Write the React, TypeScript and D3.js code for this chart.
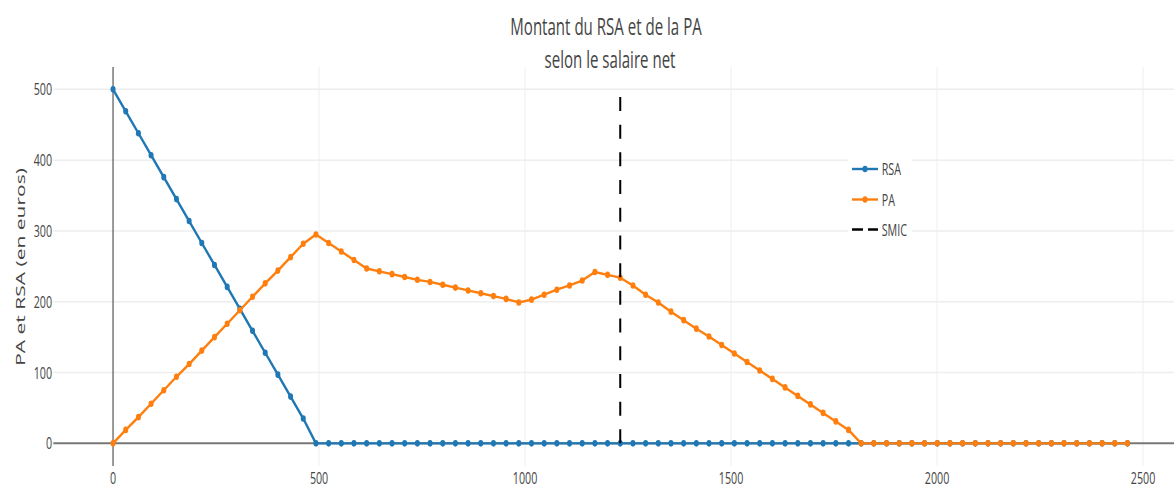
import React from "react";
import * as d3 from "d3";

const salaire = [
  0, 30.8, 61.6, 92.3, 123.1, 153.9, 184.7, 215.4, 246.2, 277.0,
  307.8, 338.5, 369.3, 400.1, 430.9, 461.6, 492.4, 523.2, 554.0, 584.7,
  615.5, 646.3, 677.1, 707.8, 738.6, 769.4, 800.2, 830.9, 861.7, 892.5,
  923.3, 954.0, 984.8, 1015.6, 1046.4, 1077.1, 1107.9, 1138.7, 1169.5, 1200.2,
  1231.0, 1261.8, 1292.6, 1323.3, 1354.1, 1384.9, 1415.7, 1446.4, 1477.2, 1508.0,
  1538.8, 1569.5, 1600.3, 1631.1, 1661.9, 1692.6, 1723.4, 1754.2, 1785.0, 1815.7,
  1846.5, 1877.3, 1908.1, 1938.8, 1969.6, 2000.4, 2031.2, 2061.9, 2092.7, 2123.5,
  2154.3, 2185.0, 2215.8, 2246.6, 2277.4, 2308.1, 2338.9, 2369.7, 2400.5, 2431.2,
  2462.0,
];

const rsa = [
  500, 469, 438, 407, 376, 345, 314, 283, 252, 221,
  190, 159, 128, 97, 66, 35, 0, 0, 0, 0,
  0, 0, 0, 0, 0, 0, 0, 0, 0, 0,
  0, 0, 0, 0, 0, 0, 0, 0, 0, 0,
  0, 0, 0, 0, 0, 0, 0, 0, 0, 0,
  0, 0, 0, 0, 0, 0, 0, 0, 0, 0,
  0, 0, 0, 0, 0, 0, 0, 0, 0, 0,
  0, 0, 0, 0, 0, 0, 0, 0, 0, 0,
  0,
];

const pa = [
  0, 19, 37, 56, 75, 94, 112, 131, 150, 169,
  188, 207, 226, 244, 263, 282, 295, 283, 271, 259,
  247, 243, 239, 235, 231, 228, 224, 220, 216, 212,
  208, 204, 199, 203, 210, 217, 223, 230, 242, 238,
  234, 223, 210, 199, 186, 174, 162, 151, 139, 127,
  115, 103, 91, 79, 67, 55, 43, 31, 19, 0,
  0, 0, 0, 0, 0, 0, 0, 0, 0, 0,
  0, 0, 0, 0, 0, 0, 0, 0, 0, 0,
  0,
];

const smic = 1231;
const smicRange = [0, 500];
const xTicks = [0, 500, 1000, 1500, 2000, 2500];
const yTicks = [0, 100, 200, 300, 400, 500];
const titleLines = ["Montant du RSA et de la PA", "selon le salaire net"];
const yTitle = "PA et RSA (en euros)";
const legendItems = ["RSA", "PA", "SMIC"];

const W = 1174;
const H = 489;
const FONT = "'Open Sans', 'Noto Sans', sans-serif";
const SX = 0.63;
const BLUE = "#1f77b4";
const ORANGE = "#ff7f0e";
const TXT = "#444";

const x = d3.scaleLinear().domain([-145, 2575]).range([53.3, 1174]);
const y = d3.scaleLinear().domain([-32, 531.6]).range([466, 67]);

function Txt(props: { x: number; y: number; size: number; anchor?: string; children: React.ReactNode; color?: string; sx?: number }) {
  return (
    <text
      transform={`translate(${props.x},${props.y}) scale(${props.sx || SX},1)`}
      fontSize={props.size}
      fontFamily={FONT}
      fill={props.color || TXT}
      textAnchor={props.anchor || "start"}
    >
      {props.children}
    </text>
  );
}

export default function App() {
  const idx = d3.range(salaire.length);
  const mkLine = (vals: number[]) =>
    d3
      .line<number>()
      .x((i) => x(salaire[i]))
      .y((i) => y(vals[i]))(idx) || "";

  const series = [
    { name: "RSA", vals: rsa, color: BLUE },
    { name: "PA", vals: pa, color: ORANGE },
  ];

  const [x0, x1] = x.range();
  const [yb, yt] = y.range();

  const legX = 852;
  const legY = [169, 199.5, 229.5];

  return (
    <svg width={W} height={H} style={{ position: "absolute", left: 0, top: 0, background: "#fff" }}>
      <rect x={0} y={0} width={W} height={H} fill="#fff" />
      {yTicks.filter((t) => t !== 0).map((t) => (
        <line key={"gy" + t} x1={x0} x2={x1} y1={y(t)} y2={y(t)} stroke="#eee" strokeWidth={1.5} />
      ))}
      {xTicks.filter((t) => t !== 0).map((t) => (
        <line key={"gx" + t} x1={x(t)} x2={x(t)} y1={yt} y2={yb} stroke="#eee" strokeWidth={1} />
      ))}
      <line x1={x0} x2={x1} y1={y(0)} y2={y(0)} stroke="#777" strokeWidth={2} />
      <line x1={x(0)} x2={x(0)} y1={yt} y2={yb} stroke="#555" strokeWidth={1.2} />

      {series.map((s) => (
        <g key={s.name}>
          <path d={mkLine(s.vals)} fill="none" stroke={s.color} strokeWidth={2.4} strokeLinejoin="round" />
          {idx.map((i) => (
            <ellipse key={i} cx={x(salaire[i])} cy={y(s.vals[i])} rx={2.5} ry={3.3} fill={s.color} />
          ))}
        </g>
      ))}

      <line
        x1={x(smic)}
        x2={x(smic)}
        y1={y(smicRange[0])}
        y2={y(smicRange[1]) + 2}
        stroke="#000"
        strokeWidth={2}
        strokeDasharray="14,13.7"
      />

      {yTicks.map((t) => (
        <Txt key={"ty" + t} x={52} y={y(t) + 6} size={17} anchor="end">
          {t}
        </Txt>
      ))}
      {xTicks.map((t) => (
        <Txt key={"tx" + t} x={x(t)} y={484} size={17} anchor="middle">
          {t}
        </Txt>
      ))}

      <text
        transform={`translate(25,267) rotate(-90) scale(1,${SX})`}
        fontSize={21}
        fontFamily={FONT}
        fill={TXT}
        textAnchor="middle"
      >
        {yTitle}
      </text>

      <Txt x={606} y={35} size={23} anchor="middle" sx={0.655}>
        {titleLines[0]}
      </Txt>
      <Txt x={610} y={68} size={23} anchor="middle" sx={0.655}>
        {titleLines[1]}
      </Txt>

      <rect x={848} y={150} width={64} height={95} fill="#fff" />
      {legendItems.map((name, k) => {
        const ly = legY[k];
        if (k < 2) {
          const c = k === 0 ? BLUE : ORANGE;
          return (
            <g key={name}>
              <line x1={legX} x2={legX + 26} y1={ly} y2={ly} stroke={c} strokeWidth={2.4} />
              <ellipse cx={legX + 13} cy={ly} rx={2.5} ry={3.3} fill={c} />
              <Txt x={881.7} y={ly + 6} size={17}>
                {name}
              </Txt>
            </g>
          );
        }
        return (
          <g key={name}>
            <line x1={legX} x2={legX + 26} y1={ly} y2={ly} stroke="#000" strokeWidth={2.4} strokeDasharray="11,5" />
            <Txt x={881.7} y={ly + 6} size={17}>
              {name}
            </Txt>
          </g>
        );
      })}
    </svg>
  );
}
